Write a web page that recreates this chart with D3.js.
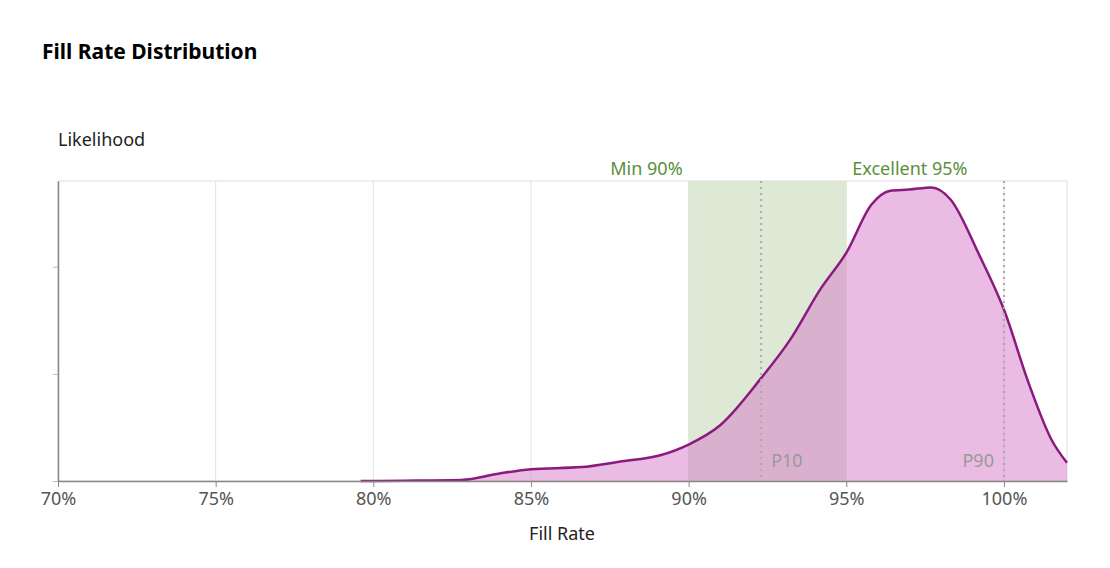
<!DOCTYPE html>
<html>
<head>
<meta charset="utf-8">
<script src="https://cdn.jsdelivr.net/npm/d3@7"></script>
<style>
body { margin: 0; background: #fff; font-family: "Noto Sans", "Open Sans", sans-serif; }
</style>
</head>
<body>
<script>
// density curve (fill rate %, likelihood)
const rates = [79.6, 81, 82.8, 84, 85, 86.6, 87.8, 89.1, 90, 91, 92.3, 93.2, 94.2, 95, 95.8, 96.4, 97, 97.7, 98.3, 99.2, 100, 100.8, 101.5, 102];
const likelihood = [0, 0.003, 0.01, 0.07, 0.11, 0.13, 0.18, 0.24, 0.34, 0.52, 0.96, 1.31, 1.8, 2.13, 2.58, 2.71, 2.72, 2.74, 2.63, 2.12, 1.6, 0.9, 0.39, 0.17];
const xTicks = [70, 75, 80, 85, 90, 95, 100];
const yTicks = [0, 1, 2];
const bandStart = 90, bandEnd = 95;
const percentiles = [["P10", 92.3], ["P90", 100]];

const w = 1110, h = 568;
const m = {left: 58, right: 43, top: 181, bottom: 87};

const svg = d3.select("body").append("svg").attr("width", w).attr("height", h);

const x = d3.scaleLinear().domain([70, 102]).range([m.left, w - m.right]);
const y = d3.scaleLinear().domain([0, 2.8]).range([h - m.bottom, m.top]);

svg.append("text").attr("x", 42).attr("y", 59).attr("font-size", 21).attr("font-weight", "bold").text("Fill Rate Distribution");
svg.append("text").attr("x", 58).attr("y", 146).attr("font-size", 18).attr("fill", "#222").text("Likelihood");

// plot frame + grid
svg.append("rect").attr("x", m.left).attr("y", m.top).attr("width", x(102) - m.left).attr("height", y(0) - m.top)
  .attr("fill", "none").attr("stroke", "#ddd");
svg.selectAll(".grid").data(xTicks.slice(1)).enter().append("line")
  .attr("x1", d => x(d)).attr("x2", d => x(d)).attr("y1", m.top).attr("y2", y(0)).attr("stroke", "#e3e3e3");

// target band
svg.append("rect").attr("x", x(bandStart)).attr("y", m.top).attr("width", x(bandEnd) - x(bandStart)).attr("height", y(0) - m.top)
  .attr("fill", "#dde9d5");
svg.append("text").attr("x", x(bandStart) - 6).attr("y", 175).attr("text-anchor", "end").attr("font-size", 18).attr("fill", "#5a8f3c").text("Min 90%");
svg.append("text").attr("x", x(bandEnd) + 6).attr("y", 175).attr("font-size", 18).attr("fill", "#5a8f3c").text("Excellent 95%");

const data = rates.map((r, i) => [r, likelihood[i]]);
svg.append("path").datum(data)
  .attr("d", d3.area().curve(d3.curveMonotoneX).x(d => x(d[0])).y0(y(0)).y1(d => y(d[1])))
  .attr("fill", "rgb(214,122,200)").attr("fill-opacity", 0.5);
svg.append("path").datum(data)
  .attr("d", d3.line().curve(d3.curveMonotoneX).x(d => x(d[0])).y(d => y(d[1])))
  .attr("fill", "none").attr("stroke", "#8b1a7e").attr("stroke-width", 2.5);

// percentile markers
percentiles.forEach(([name, v]) => {
  svg.append("line").attr("x1", x(v)).attr("x2", x(v)).attr("y1", m.top).attr("y2", y(0))
    .attr("stroke", "#aaa").attr("stroke-width", 2).attr("stroke-dasharray", "2,4");
  const left = v > 96;
  svg.append("text").attr("x", x(v) + (left ? -10 : 10)).attr("y", 467)
    .attr("text-anchor", left ? "end" : "start").attr("font-size", 18).attr("fill", "#999").text(name);
});

// axes
const xa = svg.append("g").attr("transform", `translate(0,${y(0)})`)
  .call(d3.axisBottom(x).tickValues(xTicks).tickFormat(d => d + "%").tickSize(6).tickSizeOuter(0));
xa.select(".domain").attr("stroke", "#888").attr("stroke-width", 1.5);
xa.selectAll(".tick line").attr("stroke", "#888");
xa.selectAll("text").attr("font-size", 18).attr("fill", "#555").attr("font-family", "Noto Sans, sans-serif").attr("dy", "0.85em");
const ya = svg.append("g").attr("transform", `translate(${m.left},0)`)
  .call(d3.axisLeft(y).tickValues(yTicks).tickFormat("").tickSize(5).tickSizeOuter(0));
ya.select(".domain").attr("stroke", "#888").attr("stroke-width", 1.5);
ya.selectAll(".tick line").attr("stroke", "#bbb");

svg.append("text").attr("x", 562).attr("y", 540).attr("text-anchor", "middle").attr("font-size", 18).attr("fill", "#222").text("Fill Rate");
</script>
</body>
</html>
